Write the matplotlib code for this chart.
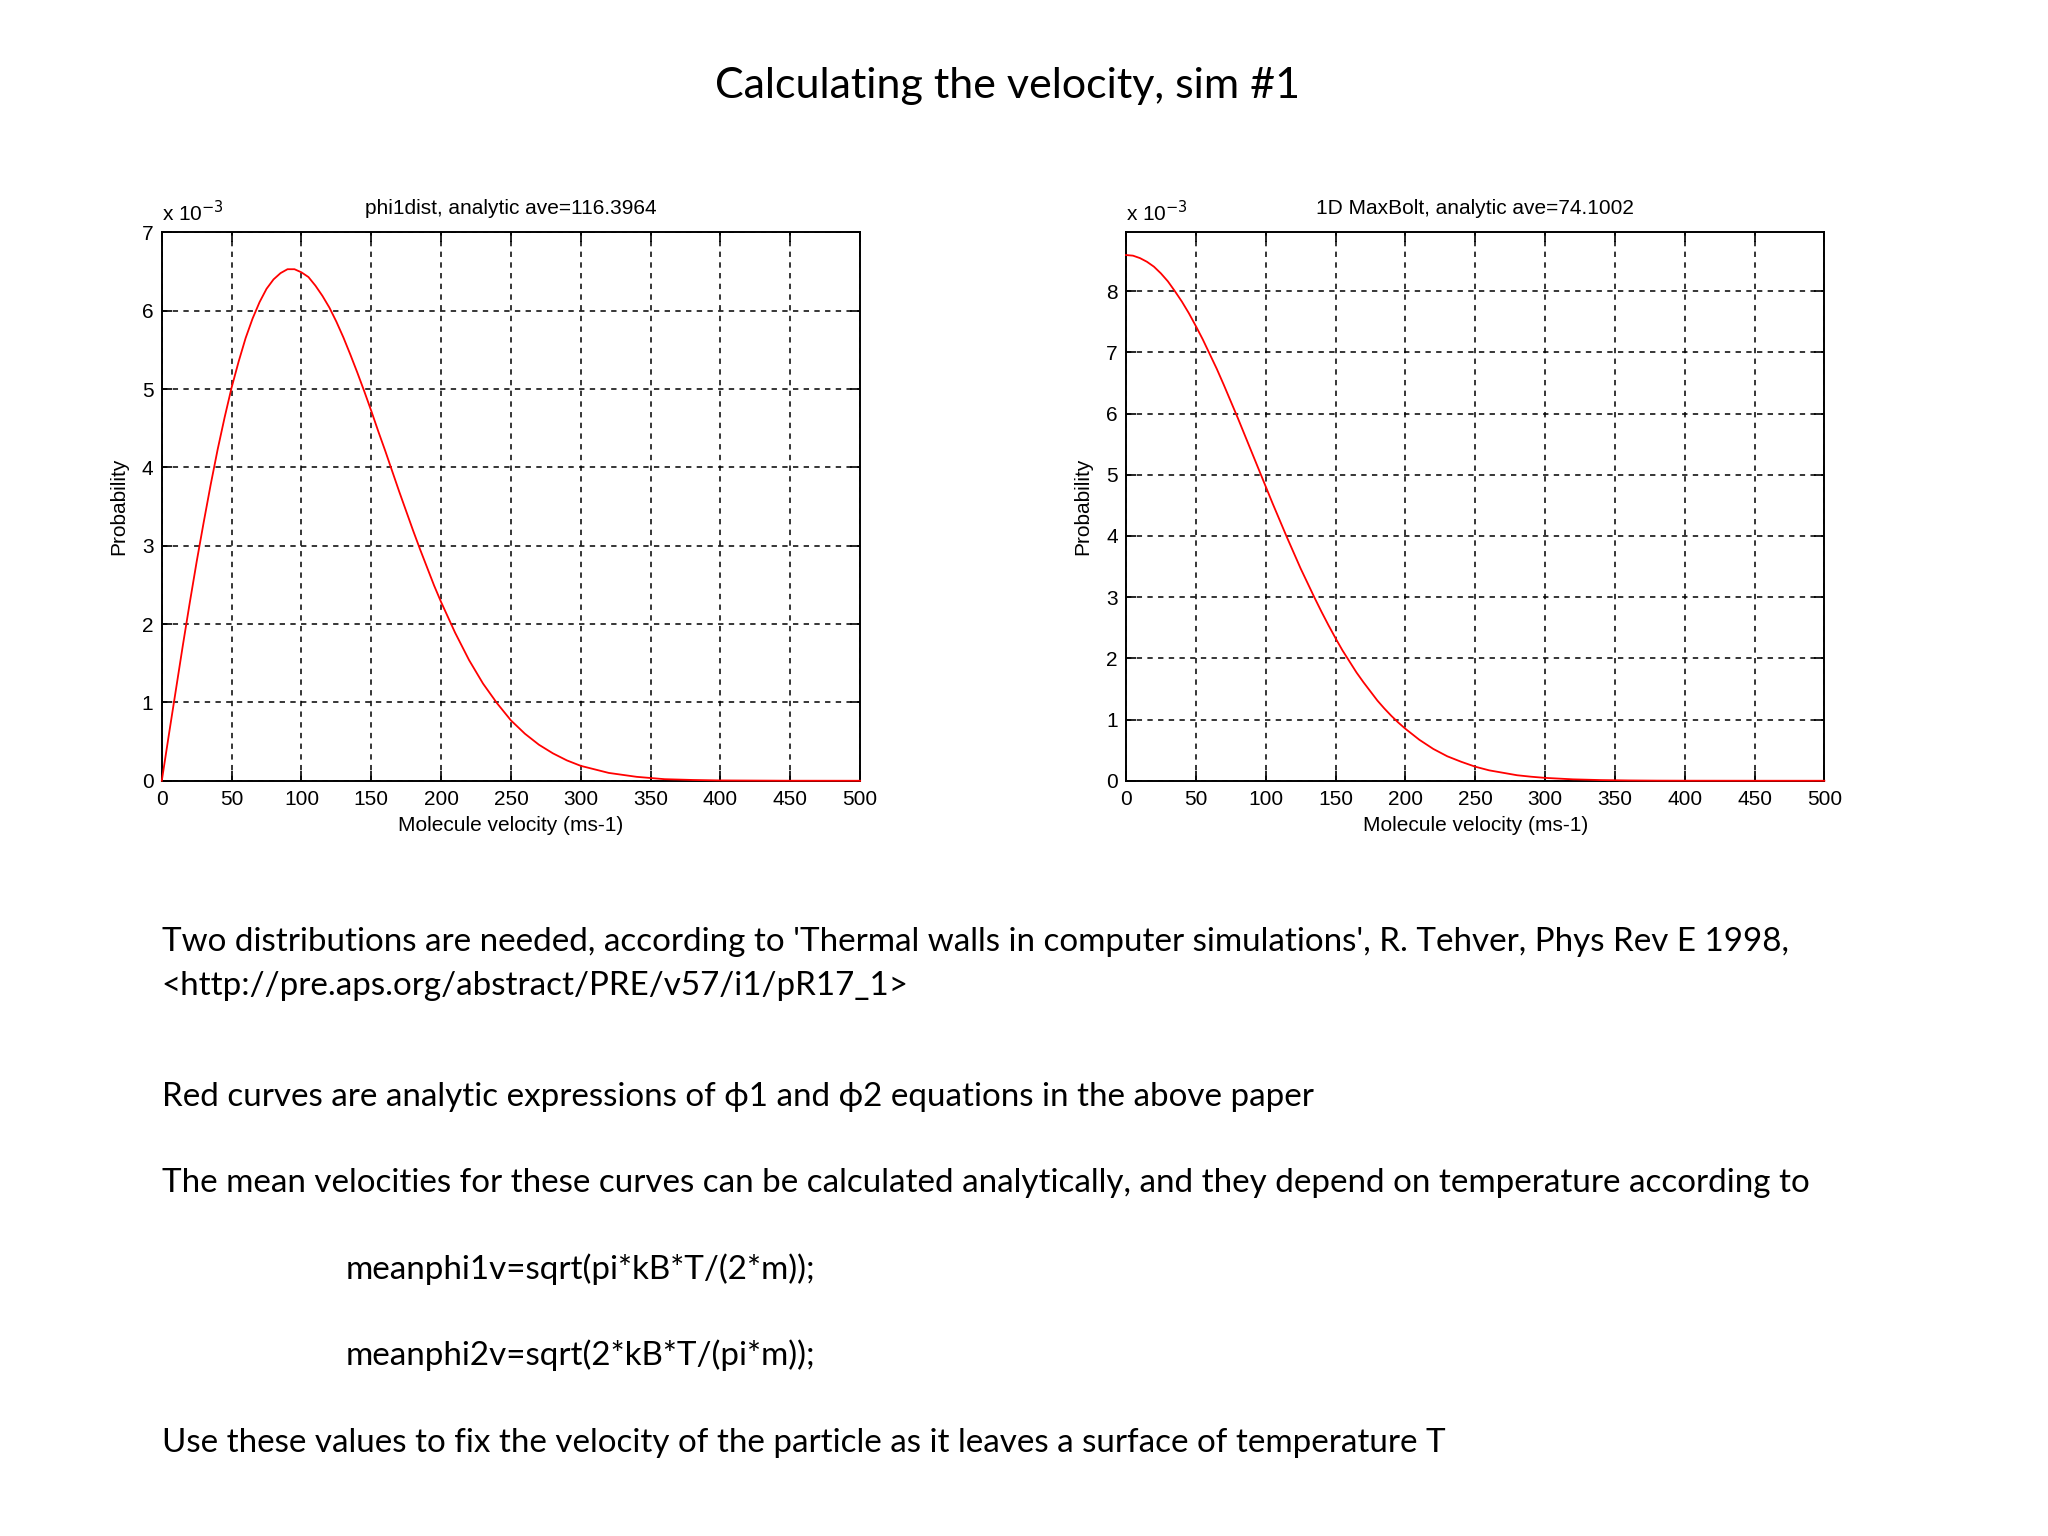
import matplotlib
matplotlib.use("Agg")
import matplotlib.pyplot as plt
from matplotlib import font_manager

# ---------------- data (units of 1e-3) ----------------
velocity = [0, 5, 10, 15, 20, 25, 30, 35, 40, 45, 50, 55, 60, 65, 70, 75, 80, 85, 90,
            95, 100, 105, 110, 115, 120, 125, 130, 135, 140, 145, 150, 155, 160, 165,
            170, 175, 180, 185, 190, 195, 200, 210, 220, 230, 240, 250, 260, 270, 280,
            290, 300, 320, 340, 360, 380, 400, 450, 500]
phi1_prob = [0.0, 0.58, 1.15, 1.72, 2.27, 2.80, 3.30, 3.78, 4.23, 4.64, 5.02, 5.35,
             5.65, 5.90, 6.11, 6.28, 6.40, 6.48, 6.53, 6.53, 6.49, 6.43, 6.32, 6.19,
             6.04, 5.86, 5.66, 5.44, 5.21, 4.97, 4.72, 4.46, 4.21, 3.95, 3.69, 3.44,
             3.19, 2.95, 2.72, 2.49, 2.28, 1.89, 1.54, 1.24, 0.99, 0.77, 0.60, 0.46,
             0.35, 0.26, 0.19, 0.10, 0.05, 0.02, 0.01, 0.004, 0.0004, 0.0]
phi2_prob = [8.59, 8.58, 8.54, 8.48, 8.40, 8.29, 8.16, 8.00, 7.83, 7.64, 7.43, 7.21,
             6.97, 6.73, 6.47, 6.20, 5.93, 5.65, 5.37, 5.09, 4.81, 4.53, 4.26, 3.99,
             3.73, 3.47, 3.23, 2.99, 2.76, 2.54, 2.33, 2.13, 1.95, 1.77, 1.61, 1.46,
             1.31, 1.18, 1.06, 0.95, 0.85, 0.67, 0.52, 0.40, 0.31, 0.23, 0.17, 0.13,
             0.09, 0.066, 0.047, 0.023, 0.011, 0.005, 0.002, 0.001, 0.0001, 0.0]

x_ticks = [0, 50, 100, 150, 200, 250, 300, 350, 400, 450, 500]
left_yticks = [0, 1, 2, 3, 4, 5, 6, 7]
right_yticks = [0, 1, 2, 3, 4, 5, 6, 7, 8]
left_title = "phi1dist, analytic ave=116.3964"
right_title = "1D MaxBolt, analytic ave=74.1002"
xlabel = "Molecule velocity (ms-1)"
ylabel = "Probability"

slide_title = "Calculating the velocity, sim #1"
body_lines = [
    ("Two distributions are needed, according to 'Thermal walls in computer simulations', R. Tehver, Phys Rev E 1998,", 0.079, 0.387),
    ("<http://pre.aps.org/abstract/PRE/v57/i1/pR17_1>", 0.079, 0.358),
    ("Red curves are analytic expressions of \u03d51 and \u03d52 equations in the above paper", 0.079, 0.2855),
    ("The mean velocities for these curves can be calculated analytically, and they depend on temperature according to", 0.079, 0.2297),
    ("meanphi1v=sqrt(pi*kB*T/(2*m));", 0.169, 0.1738),
    ("meanphi2v=sqrt(2*kB*T/(pi*m));", 0.169, 0.1178),
    ("Use these values to fix the velocity of the particle as it leaves a surface of temperature T", 0.079, 0.0605),
]

# ---------------- fonts ----------------
avail = {f.name for f in font_manager.fontManager.ttflist}
mfont = ["Liberation Sans Narrow", "Liberation Sans", "DejaVu Sans"]
mfont = [f for f in mfont if f in avail] or ["DejaVu Sans"]
sfont = [f for f in ["Lato", "Noto Sans", "DejaVu Sans"] if f in avail] + ["DejaVu Sans"]

fig = plt.figure(figsize=(20.48, 15.36), dpi=100)
fig.patch.set_facecolor("white")

fig.text(0.492, 0.944, slide_title, ha="center", va="center", fontsize=31,
         family=sfont)

def draw(ax, yvals, ylim, yticks, title):
    ax.plot(velocity, yvals, color="#ff0000", lw=1.3, zorder=3, clip_on=False)
    ax.set_xlim(0, 500)
    ax.set_ylim(0, ylim)
    ax.set_xticks(x_ticks)
    ax.set_yticks(yticks)
    ax.set_xticklabels([str(t) for t in x_ticks], family=mfont, fontsize=15)
    ax.set_yticklabels([str(t) for t in yticks], family=mfont, fontsize=15)
    ax.tick_params(direction="in", length=7, width=1.2, top=True, right=True)
    ax.tick_params(axis="x", pad=7)
    ax.tick_params(axis="y", pad=6)
    ax.grid(True, color="black", linestyle=(0, (3.5, 3.5)), lw=1.1)
    for s in ax.spines.values():
        s.set_linewidth(1.4)
    ax.set_title(title, family=mfont, fontsize=15, pad=13)
    ax.set_xlabel(xlabel, family=mfont, fontsize=15, labelpad=5)
    ax.set_ylabel(ylabel, family=mfont, fontsize=15, labelpad=10)
    ax.text(0.0, 1.014, "x 10$^{-3}$", transform=ax.transAxes, ha="left", va="bottom",
            family=mfont, fontsize=15)

ax1 = fig.add_axes([0.079, 0.4917, 0.341, 0.357])
draw(ax1, phi1_prob, 7.0, left_yticks, left_title)

ax2 = fig.add_axes([0.5498, 0.4917, 0.341, 0.357])
draw(ax2, phi2_prob, 8.96, right_yticks, right_title)

for txt, x, y in body_lines:
    fig.text(x, y, txt, ha="left", va="center", fontsize=23.9, family=sfont)

fig.savefig("out.png", dpi=100, facecolor="white")
